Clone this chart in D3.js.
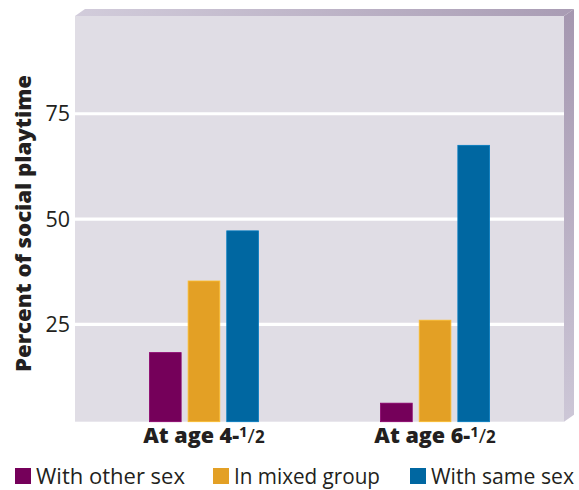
<!DOCTYPE html>
<html>
<head>
<meta charset="utf-8">
<script src="https://cdn.jsdelivr.net/npm/d3@7"></script>
<style>
  html, body { margin: 0; padding: 0; background: #ffffff; }
  svg { display: block; font-family: "Open Sans", "Lato", sans-serif; }
</style>
</head>
<body>
<svg id="chart" width="579" height="490"></svg>
<script>
const categories = ["4", "6"];
const series = ["With other sex", "In mixed group", "With same sex"];
const otherSex = [18.3, 6.3];
const mixedGroup = [35.3, 26.0];
const sameSex = [47.2, 67.5];
const yTicks = [25, 50, 75];
const yDomain = [1.9, 98.2];
const colors = ["#75005a", "#e3a025", "#0067a1"];

const values = [otherSex, mixedGroup, sameSex];
const svg = d3.select("#chart");
const textColor = "#231f20";

const plot = { left: 75, right: 564, top: 16, bottom: 421.7 };
const depth = { dx: 10, dy: 7 };

const x = d3.scalePoint().domain(categories).range([plot.left, plot.right]).padding(0.558);
const xs = d3.scaleBand().domain(series).range([-54.5, 54.5]).paddingInner(0.18);
const y = d3.scaleLinear().domain(yDomain).range([plot.bottom, plot.top]);

const defs = svg.append("defs");
const gTop = defs.append("linearGradient").attr("id", "gtop").attr("x1", 0).attr("x2", 1).attr("y1", 0).attr("y2", 0);
gTop.append("stop").attr("offset", 0).attr("stop-color", "#d2ccdb");
gTop.append("stop").attr("offset", 1).attr("stop-color", "#a99cb4");
const gRight = defs.append("linearGradient").attr("id", "gright").attr("x1", 0).attr("x2", 0).attr("y1", 0).attr("y2", 1);
gRight.append("stop").attr("offset", 0).attr("stop-color", "#a597b0");
gRight.append("stop").attr("offset", 1).attr("stop-color", "#cdc7d7");

// 3D bevels
svg.append("path")
  .attr("d", `M${plot.left},${plot.top} L${plot.left + depth.dx},${plot.top - depth.dy} L${plot.right + depth.dx},${plot.top - depth.dy} L${plot.right},${plot.top} Z`)
  .attr("fill", "url(#gtop)");
svg.append("path")
  .attr("d", `M${plot.right},${plot.top} L${plot.right + depth.dx},${plot.top - depth.dy} L${plot.right + depth.dx},${plot.bottom - depth.dy} L${plot.right},${plot.bottom} Z`)
  .attr("fill", "url(#gright)");

// plot face
svg.append("rect")
  .attr("x", plot.left).attr("y", plot.top)
  .attr("width", plot.right - plot.left).attr("height", plot.bottom - plot.top)
  .attr("fill", "#e0dde5");

// gridlines
svg.append("g").selectAll("line").data(yTicks).join("line")
  .attr("x1", plot.left).attr("x2", plot.right)
  .attr("y1", d => y(d)).attr("y2", d => y(d))
  .attr("stroke", "#ffffff").attr("stroke-width", 3.2);

// y tick labels
svg.append("g").selectAll("text").data(yTicks).join("text")
  .attr("x", 70).attr("y", d => y(d))
  .attr("dy", "0.36em")
  .attr("text-anchor", "end")
  .attr("font-size", 21.5)
  .attr("fill", textColor)
  .text(d => d);

// bars
const groups = svg.append("g").selectAll("g").data(categories).join("g")
  .attr("transform", d => `translate(${x(d)},0)`);
groups.selectAll("rect").data((d, i) => series.map((s, j) => ({ s, j, v: values[j][i] }))).join("rect")
  .attr("x", d => xs(d.s)).attr("width", xs.bandwidth())
  .attr("y", d => y(d.v)).attr("height", d => y(yDomain[0]) - y(d.v))
  .attr("fill", d => colors[d.j])
  .attr("stroke", d => d3.color(colors[d.j]).brighter(0.5))
  .attr("stroke-width", 0.8);

// x labels
const xl = svg.append("g").selectAll("text").data(categories).join("text")
  .attr("x", d => x(d)).attr("y", 443)
  .attr("text-anchor", "middle")
  .attr("font-size", 21.5).attr("font-weight", 800)
  .attr("fill", textColor);
xl.append("tspan").text(d => `At age ${d}-`);
xl.append("tspan").attr("font-size", 15).attr("dy", -6).attr("font-weight", 700).text("1");
xl.append("tspan").attr("font-size", 20).attr("dy", 6).attr("font-weight", 400).text("/");
xl.append("tspan").attr("font-size", 17).attr("font-weight", 700).text("2");

// y axis title
svg.append("text")
  .attr("transform", "translate(31,223.5) rotate(-90)")
  .attr("text-anchor", "middle")
  .attr("font-size", 20.5).attr("font-weight", 800)
  .attr("textLength", 297).attr("lengthAdjust", "spacingAndGlyphs")
  .attr("fill", textColor)
  .text("Percent of social playtime");

// legend
const legendX = [15, 213, 410];
const legendLen = [149, 146, 143];
const lg = svg.append("g").selectAll("g").data(series).join("g")
  .attr("transform", (d, i) => `translate(${legendX[i]},468)`);
lg.append("rect").attr("width", 16).attr("height", 16).attr("fill", (d, i) => colors[i]);
lg.append("text").attr("x", 21).attr("y", 15.5)
  .attr("font-size", 21).attr("fill", textColor)
  .attr("textLength", (d, i) => legendLen[i]).attr("lengthAdjust", "spacingAndGlyphs")
  .text(d => d);
</script>
</body>
</html>
